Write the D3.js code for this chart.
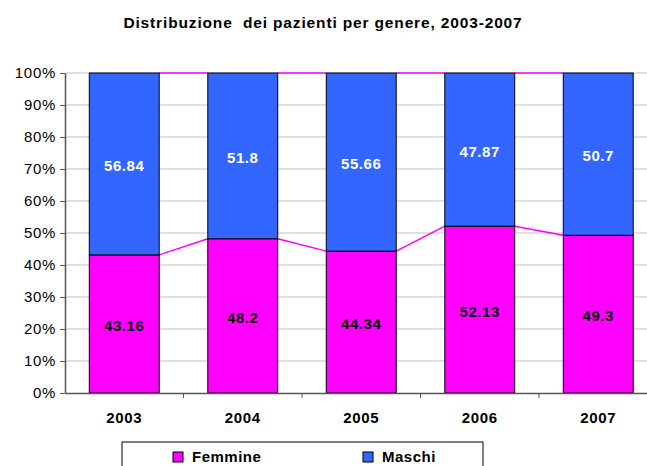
<!DOCTYPE html>
<html>
<head>
<meta http-equiv="Content-Type" content="text/html; charset=utf-8" />
<script src="https://cdn.jsdelivr.net/npm/d3@7/dist/d3.min.js"></script>
<title>Distribuzione pazienti</title>
<style>
  body { margin: 0; background: #fff; }
  text { font-family: "Liberation Sans", Arial, sans-serif; }
</style>
</head>
<body>
<svg width="647" height="466" id="mainsvg"></svg>
<script>
  const years = ['2003', '2004', '2005', '2006', '2007'];
  const femmine = [43.16, 48.2, 44.34, 52.13, 49.3];
  const maschi = [56.84, 51.8, 55.66, 47.87, 50.7];
  const yTicks = [0, 10, 20, 30, 40, 50, 60, 70, 80, 90, 100];
  const seriesNames = ['Femmine', 'Maschi'];
  const colors = ['#ff00ff', '#3366ff'];

  let svg = d3.select('#mainsvg');
  const plotLeft = 65, plotRight = 657.5, plotTop = 73, plotBottom = 393;

  let x = d3.scaleBand().domain(years).range([plotLeft, plotRight]).paddingInner(0.41).paddingOuter(0.205);
  let y = d3.scaleLinear().domain([0, 100]).range([plotBottom, plotTop]);

  // title
  svg.append('text').attr('x', 323).attr('y', 28).attr('text-anchor', 'middle')
    .attr('font-size', '15.5px').attr('font-weight', 'bold')
    .style('white-space', 'pre').attr('letter-spacing', '0.85px')
    .text('Distribuzione  dei pazienti per genere, 2003-2007');

  // gridlines
  svg.selectAll('.grid').data(yTicks.slice(1)).join('line')
    .attr('class', 'grid')
    .attr('x1', plotLeft).attr('x2', plotRight)
    .attr('y1', d => y(d)).attr('y2', d => y(d))
    .attr('stroke', '#c0c0c0').attr('stroke-width', 1);

  // stacked data
  let rows = years.map((yr, i) => ({year: yr, Femmine: femmine[i], Maschi: maschi[i]}));
  let stack = d3.stack().keys(seriesNames)(rows);

  // series lines
  const lineGen = d3.line();
  stack.forEach(layer => {
    for (let i = 0; i < years.length - 1; i++) {
      svg.append('path')
        .attr('d', lineGen([[x(years[i]) + x.bandwidth(), y(layer[i][1])], [x(years[i + 1]), y(layer[i + 1][1])]]))
        .attr('stroke', '#ff00ff').attr('stroke-width', 1.5).attr('fill', 'none');
    }
  });

  // bars
  stack.forEach((layer, k) => {
    svg.selectAll('.bar' + k).data(layer).join('rect')
      .attr('class', 'bar' + k)
      .attr('x', d => x(d.data.year))
      .attr('width', x.bandwidth())
      .attr('y', d => y(d[1]))
      .attr('height', d => y(d[0]) - y(d[1]))
      .attr('fill', colors[k])
      .attr('stroke', '#000').attr('stroke-width', 1);

    svg.selectAll('.lab' + k).data(layer).join('text')
      .attr('class', 'lab' + k)
      .attr('x', d => x(d.data.year) + x.bandwidth() / 2)
      .attr('y', d => y((d[0] + d[1]) / 2) + 7)
      .attr('text-anchor', 'middle')
      .attr('font-size', '15px').attr('font-weight', 'bold').attr('letter-spacing', '0.6px')
      .attr('fill', k === 0 ? '#000' : '#fff')
      .text(d => d.data[seriesNames[k]]);
  });

  // y axis
  let yAxis = svg.append('g').attr('transform', `translate(${plotLeft},0)`)
    .call(d3.axisLeft(y).tickValues(yTicks).tickFormat(d => d + '%').tickSize(5).tickSizeOuter(0));
  yAxis.select('.domain').attr('stroke', '#555').attr('stroke-width', 1.5);
  yAxis.selectAll('.tick line').attr('stroke', '#555');
  yAxis.selectAll('.tick text').attr('font-size', '15px').attr('fill', '#000').attr('letter-spacing', '0.7px')
    .attr('font-family', '"Liberation Sans", Arial, sans-serif').attr('dx', '-1px');

  // x axis
  let xAxis = svg.append('g').attr('transform', `translate(0,${plotBottom})`)
    .call(d3.axisBottom(x).tickSize(0).tickSizeOuter(0).tickPadding(19));
  xAxis.select('.domain').attr('stroke', '#555').attr('stroke-width', 1.5);
  xAxis.selectAll('.tick text').attr('font-size', '15px').attr('font-weight', 'bold').attr('fill', '#000')
    .attr('letter-spacing', '0.6px')
    .attr('font-family', '"Liberation Sans", Arial, sans-serif');
  let step = x.step();
  svg.selectAll('.xtick').data(years.slice(1)).join('line')
    .attr('class', 'xtick')
    .attr('x1', d => x(d) - x.paddingInner() * step / 2).attr('x2', d => x(d) - x.paddingInner() * step / 2)
    .attr('y1', plotBottom).attr('y2', plotBottom + 5)
    .attr('stroke', '#555');

  // legend
  svg.append('rect').attr('x', 122).attr('y', 442).attr('width', 361).attr('height', 40)
    .attr('fill', '#fff').attr('stroke', '#000').attr('stroke-width', 1);
  const legX = [173, 363];
  seriesNames.forEach((s, i) => {
    svg.append('rect').attr('x', legX[i]).attr('y', 452).attr('width', 10).attr('height', 10)
      .attr('fill', colors[i]).attr('stroke', '#000');
    svg.append('text').attr('x', legX[i] + 19).attr('y', 462)
      .attr('font-size', '15px').attr('font-weight', 'bold').attr('letter-spacing', '0.5px').text(s);
  });
</script>
</body>
</html>
